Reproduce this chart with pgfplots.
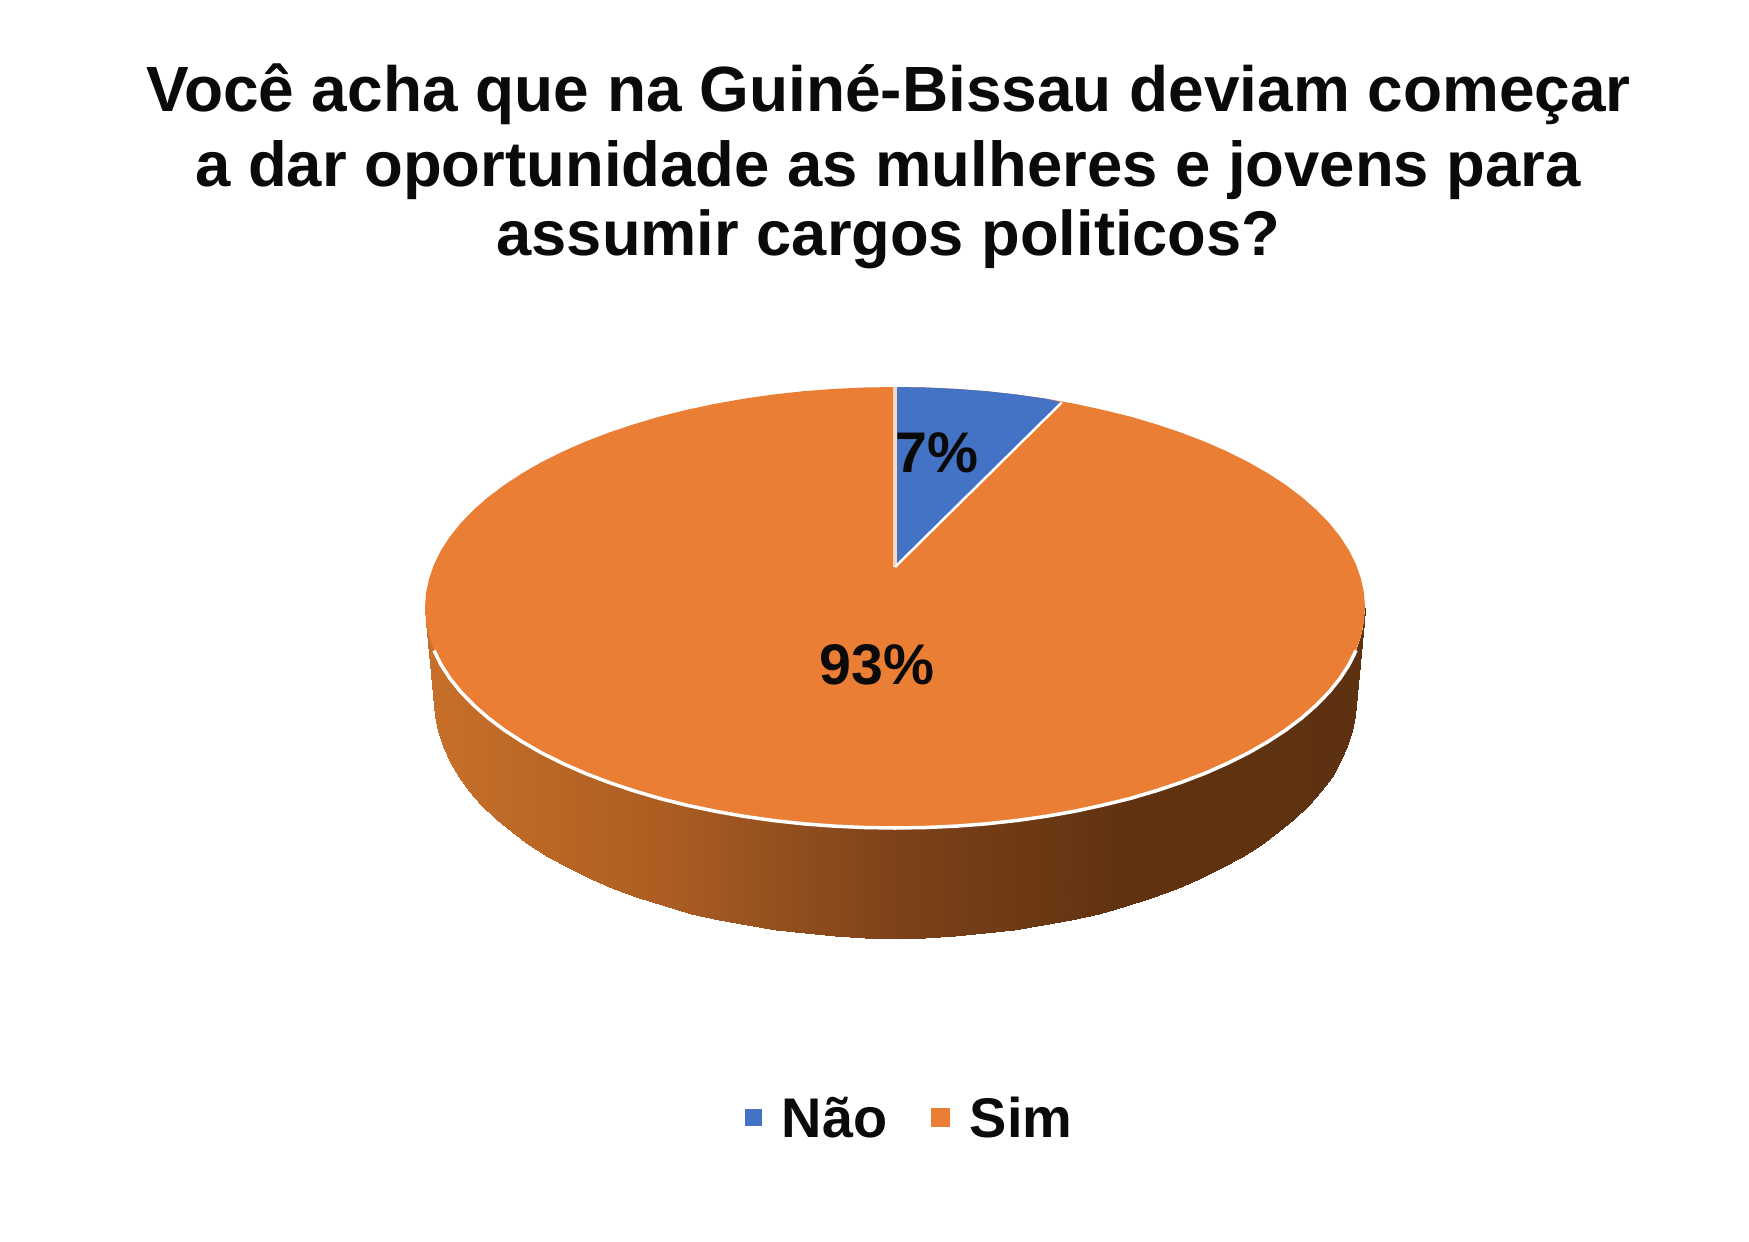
\documentclass[border=0pt]{standalone}
\usepackage{fontspec}
\setmainfont{Liberation Sans}
\usepackage{pgfplots}
\pgfplotsset{compat=1.18}
\definecolor{naoblue}{HTML}{4472C4}
\definecolor{simorange}{HTML}{E97E34}
\definecolor{ink}{HTML}{0A0A0A}

\begin{document}
\begin{tikzpicture}
\path[use as bounding box] (0,0) rectangle (17.49cm,12.41cm);
\begin{axis}[
  at={(0,0)},
  anchor=south west,
  hide axis,
  scale only axis,
  width=17.49cm,
  height=12.41cm,
  xmin=0, xmax=1749,
  ymin=0, ymax=1241,
  y dir=reverse,
  clip=false,
  colormap={side}{rgb255=(200,112,42) rgb255=(172,94,34) rgb255=(125,66,26) rgb255=(96,50,16) rgb255=(94,50,16)},
  point meta min=425, point meta max=1365,
]
% side wall of the disc: front edge of the top face, then the lower rim
\addplot[surf, shader=interp, mesh/rows=2, point meta=x] table {
425 607.5
426 621.9
429.1 636.3
434 650.5
441 664.6
449.9 678.4
460.8 691.9
473.5 705
488 717.8
504.2 730
522.1 741.7
541.6 752.9
562.7 763.4
585.1 773.3
608.9 782.4
633.9 790.8
660 798.5
687.1 805.3
715.1 811.2
743.9 816.3
773.4 820.5
803.3 823.8
833.7 826.1
864.3 827.5
895 828
925.7 827.5
956.3 826.1
986.7 823.8
1016.6 820.5
1046.1 816.3
1074.9 811.2
1102.1 805.3
1130 798.5
1156.1 790.8
1181.1 782.4
1204.9 773.3
1227.3 763.4
1248.4 752.9
1267.9 741.7
1285.8 730
1302 717.8
1316.5 705
1329.2 691.9
1340.1 678.4
1349 664.6
1356 650.5
1360.9 636.3
1364 621.9
1365 607.5
434 700
435 715.6
438 731.1
442.9 746.4
449.7 761.6
458.5 776.5
469.1 791.1
481.5 805.3
495.8 819
511.7 832.2
529.2 844.9
548.4 856.9
569 868.3
591 878.9
614.3 888.8
638.9 897.9
664.5 906.1
691.1 913.5
718.6 919.9
746.8 925.4
775.7 929.9
805.1 933.4
834.8 936
864.9 937.5
895 938
925.1 937.5
955.2 936
984.9 933.4
1014.3 929.9
1043.2 925.4
1071.4 919.9
1098.9 913.5
1125.5 906.1
1151.1 897.9
1175.7 888.8
1199 878.9
1221 868.3
1241.6 856.9
1260.8 844.9
1278.3 832.2
1294.2 819
1308.5 805.3
1320.9 791.1
1331.5 776.5
1340.3 761.6
1347.1 746.4
1352 731.1
1355 715.6
1356 700
};
% Sim, 93%
\addplot[fill=simorange, draw=none] coordinates {
(895,387) (925.7,387.5) (956.3,388.9) (986.7,391.2) (1016.6,394.5) (1046.1,398.7)
(1074.9,403.8) (1102.1,409.7) (1130,416.5) (1156.1,424.2) (1181.1,432.6) (1204.9,441.7)
(1227.3,451.6) (1248.4,462.1) (1267.9,473.3) (1285.8,485) (1302,497.2) (1316.5,510)
(1329.2,523.1) (1340.1,536.6) (1349,550.4) (1356,564.5) (1360.9,578.7) (1364,593.1)
(1365,607.5) (1364,621.9) (1360.9,636.3) (1356,650.5) (1349,664.6) (1340.1,678.4)
(1329.2,691.9) (1316.5,705) (1302,717.8) (1285.8,730) (1267.9,741.7) (1248.4,752.9)
(1227.3,763.4) (1204.9,773.3) (1181.1,782.4) (1156.1,790.8) (1130,798.5) (1102.1,805.3)
(1074.9,811.2) (1046.1,816.3) (1016.6,820.5) (986.7,823.8) (956.3,826.1) (925.7,827.5)
(895,828) (864.3,827.5) (833.7,826.1) (803.3,823.8) (773.4,820.5) (743.9,816.3)
(715.1,811.2) (687.1,805.3) (660,798.5) (633.9,790.8) (608.9,782.4) (585.1,773.3)
(562.7,763.4) (541.6,752.9) (522.1,741.7) (504.2,730) (488,717.8) (473.5,705)
(460.8,691.9) (449.9,678.4) (441,664.6) (434,650.5) (429.1,636.3) (426,621.9)
(425,607.5) (426,593.1) (429.1,578.7) (434,564.5) (441,550.4) (449.9,536.6)
(460.8,523.1) (473.5,510) (488,497.2) (504.2,485) (522.1,473.3) (541.6,462.1)
(562.7,451.6) (585.1,441.7) (608.9,432.6) (633.9,424.2) (660,416.5) (687.1,409.7)
(715.1,403.8) (743.9,398.7) (773.4,394.5) (803.3,391.2) (833.7,388.9) (864.3,387.5)
} -- cycle;
% white rim along the front edge
\addplot[white, line width=1pt] coordinates {
(434,650.5) (441,664.6) (449.9,678.4) (460.8,691.9) (473.5,705)
(488,717.8) (504.2,730) (522.1,741.7) (541.6,752.9) (562.7,763.4) (585.1,773.3)
(608.9,782.4) (633.9,790.8) (660,798.5) (687.1,805.3) (715.1,811.2) (743.9,816.3)
(773.4,820.5) (803.3,823.8) (833.7,826.1) (864.3,827.5) (895,828) (925.7,827.5)
(956.3,826.1) (986.7,823.8) (1016.6,820.5) (1046.1,816.3) (1074.9,811.2) (1102.1,805.3)
(1130,798.5) (1156.1,790.8) (1181.1,782.4) (1204.9,773.3) (1227.3,763.4) (1248.4,752.9)
(1267.9,741.7) (1285.8,730) (1302,717.8) (1316.5,705) (1329.2,691.9) (1340.1,678.4)
(1349,664.6) (1356,650.5)
};
% Nao, 7%
\addplot[fill=naoblue, draw=none] coordinates {
(895,567) (895,387) (925.7,387.5) (956.3,388.9) (986.7,391.2) (1016.6,394.5) (1046.1,398.7) (1061.7,402.5)
} -- cycle;
\addplot[white!70!simorange, line width=1pt] coordinates {(895,567) (895,387)};
\addplot[white, line width=0.7pt] coordinates {(895,567) (1061.7,402.5)};
% legend keys
\addplot[only marks, mark=square*, mark size=2.2pt, naoblue] coordinates {(753.5,1117.5)};
\addplot[only marks, mark=square*, mark size=2.5pt, simorange] coordinates {(940,1117.5)};

\begin{scope}[every node/.style={anchor=base, inner sep=0pt, text=ink}]
\node[font=\fontsize{18.2}{20.5}\selectfont\bfseries] at (axis cs:888.5,111.5) {Você acha que na Guiné-Bissau deviam começar};
\node[font=\fontsize{18.05}{20.5}\selectfont\bfseries] at (axis cs:888,186) {a dar oportunidade as mulheres e jovens para};
\node[font=\fontsize{18}{20.5}\selectfont\bfseries] at (axis cs:888.5,255) {assumir cargos politicos?};
\node[font=\fontsize{16.3}{18}\selectfont\bfseries] at (axis cs:877,684) {93\%};
\node[font=\fontsize{16.3}{18}\selectfont\bfseries] at (axis cs:937,472) {7\%};
\node[font=\fontsize{15.9}{18}\selectfont\bfseries] at (axis cs:834.5,1137) {Não};
\node[font=\fontsize{15.9}{18}\selectfont\bfseries] at (axis cs:1021,1137) {Sim};
\end{scope}
\end{axis}
\end{tikzpicture}
\end{document}
